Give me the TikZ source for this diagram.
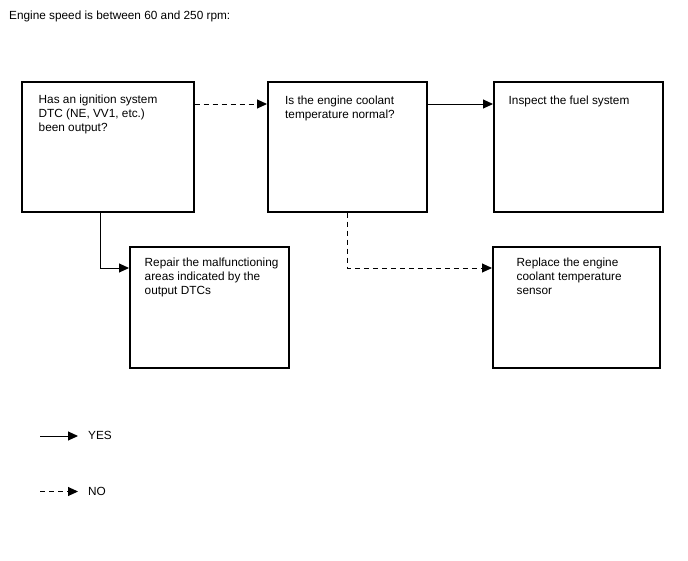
\documentclass[tikz,border=0pt]{standalone}
\usepackage{fontspec}
\setmainfont{Liberation Sans}
\usetikzlibrary{arrows.meta,calc}
\tikzset{
  box/.style={draw=black, line width=1.5pt, fill=white, rectangle, inner sep=0pt, anchor=north west},
  txt/.style={anchor=base west, inner sep=0pt, align=left, font=\fontsize{11.8}{14}\selectfont},
  yesline/.style={draw=black, line width=1pt, -{Triangle[length=10pt,width=9pt]}},
  noline/.style={yesline, dash pattern=on 5pt off 4pt}
}
\begin{document}
\begin{tikzpicture}[x=1pt,y=-1pt]
\useasboundingbox[fill=white] (0,0) rectangle (688,560);
\node[txt] (title) at (9,19) {Engine speed is between 60 and 250 rpm:};
% boxes
\node[box, minimum width=172pt, minimum height=130pt] (b1) at (21,81) {};
\node[box, minimum width=159pt, minimum height=130pt] (b2) at (267,81) {};
\node[box, minimum width=169pt, minimum height=130pt] (b3) at (493,81) {};
\node[box, minimum width=159pt, minimum height=121pt] (b4) at (129,246) {};
\node[box, minimum width=167pt, minimum height=121pt] (b5) at (492,246) {};
% texts (anchor is the baseline of the last line)
\node[txt] (t1) at (38.5,131.3) {Has an ignition system\\DTC (NE, VV1, etc.)\\been output?};
\node[txt] (t2) at (285,118) {Is the engine coolant\\temperature normal?};
\node[txt] (t3) at (508.5,104) {Inspect the fuel system};
\node[txt] (t4) at (144.5,294) {Repair the malfunctioning\\areas indicated by the\\output DTCs};
\node[txt] (t5) at (516.5,294) {Replace the engine\\coolant temperature\\sensor};
% connectors
\draw[noline] ([yshift=-23pt]b1.north east) -- ([yshift=-23pt]b2.north west);
\draw[yesline] ([yshift=-23pt]b2.north east) -- ([yshift=-23pt]b3.north west);
\draw[yesline] ([xshift=79pt]b1.south west) |- ([yshift=-22pt]b4.north west);
\draw[noline] (b2.south) |- ([yshift=-22pt]b5.north west);
% legend
\node[txt] (yes) at (88,439.5) {YES};
\node[txt] (no) at (88,495) {NO};
\coordinate (ys) at (40,436);
\coordinate (ns) at (40,491.5);
\draw[yesline] (ys) -- (ys -| 78,0);
\draw[noline] (ns) -- (ns -| 78,0);
\end{tikzpicture}
\end{document}
